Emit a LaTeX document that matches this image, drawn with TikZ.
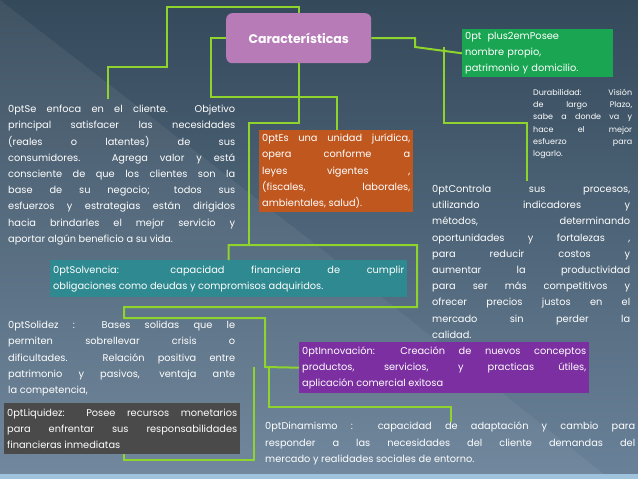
\documentclass[tikz,border=0pt]{standalone}
\usepackage{fontspec}
\setmainfont{Poppins}
\usetikzlibrary{calc}
\definecolor{bgtop}{HTML}{34495A}
\definecolor{bgbot}{HTML}{6A8299}
\definecolor{bandblue}{HTML}{9FC3DD}
\definecolor{linkgreen}{HTML}{8FD42C}
\definecolor{carfill}{HTML}{B77BB8}
\definecolor{poseefill}{HTML}{19A552}
\definecolor{jurfill}{HTML}{C0571F}
\definecolor{solvfill}{HTML}{2E8A90}
\definecolor{innfill}{HTML}{7B2FA1}
\definecolor{liqfill}{HTML}{4A4A4A}
\hbadness=10000
\tikzset{
  link/.style={draw=linkgreen, line width=2pt},
  txt/.style={anchor=north west, inner sep=0pt, align=justify, text=white,
    font=\fontsize{9.8}{16.2}\selectfont\hyphenpenalty=10000\exhyphenpenalty=10000},
  boxed/.style={txt, inner sep=3pt},
}
\begin{document}
\begin{tikzpicture}[x=1pt, y=-1pt]
  % background
  \shade[top color=bgtop, bottom color=bgbot] (0,0) rectangle (638,479);
  \fill[white, opacity=0.06] (0,0) -- (310,240) -- (0,240) -- cycle;
  \fill[white, opacity=0.05] (0,240) -- (310,240) -- (610,479) -- (0,479) -- cycle;
  \fill[bandblue] (0,474) rectangle (638,479);
  % boxes
  \node[anchor=north west, fill=carfill, rounded corners=6pt, minimum width=145pt,
    minimum height=50pt, text=white, font=\bfseries\fontsize{12.5}{14}\selectfont]
    (car) at (226,13) {Características};
  \node[boxed, fill=poseefill, text width=145pt, align=center, minimum height=37pt]
    (posee) at (462,29) {Posee nombre propio,\\ patrimonio y domicilio.};
  \node[txt, text width=99pt, font=\fontsize{8}{12.2}\selectfont] (dur) at (533,89)
    {Durabilidad: Visión\linebreak de largo Plazo,\linebreak sabe a donde va y\linebreak hace el mejor\linebreak esfuerzo para\linebreak logarlo.};
  \node[txt, text width=227pt] (enf) at (8,105)
    {Se enfoca en el cliente. Objetivo\linebreak principal satisfacer las necesidades\linebreak (reales o latentes) de sus\linebreak consumidores. Agrega valor y está\linebreak consciente de que los clientes son la\linebreak base de su negocio; todos sus\linebreak esfuerzos y estrategias están dirigidos\linebreak hacia brindarles el mejor servicio y\linebreak aportar algún beneficio a su vida.};
  \node[boxed, fill=jurfill, text width=148pt, minimum height=82pt] (jur) at (259,130)
    {Es una unidad jurídica,\linebreak opera conforme a\linebreak leyes vigentes ,\linebreak (fiscales, laborales,\linebreak ambientales, salud).};
  \node[txt, text width=198pt] (ctl) at (432,185)
    {Controla sus procesos,\linebreak utilizando indicadores y\linebreak métodos, determinando\linebreak oportunidades y fortalezas ,\linebreak para reducir costos y\linebreak aumentar la productividad\linebreak para ser más competitivos y\linebreak ofrecer precios justos en el\linebreak mercado sin perder la\linebreak calidad.};
  \node[boxed, fill=solvfill, text width=351pt, minimum height=37pt] (solv) at (50,260)
    {Solvencia: capacidad financiera de cumplir\linebreak obligaciones como deudas y compromisos adquiridos.};
  \node[txt, text width=227pt] (sol) at (8,321)
    {Solidez : Bases solidas que le\linebreak permiten sobrellevar crisis o\linebreak dificultades. Relación positiva entre\linebreak patrimonio y pasivos, ventaja ante\linebreak la competencia,};
  \node[boxed, fill=innfill, text width=284pt, minimum height=51pt] (inn) at (299,342)
    {Innovación: Creación de nuevos conceptos\linebreak productos, servicios, y practicas útiles,\linebreak aplicación comercial exitosa};
  \node[boxed, fill=liqfill, text width=230pt, minimum height=51pt] (liq) at (4,403)
    {Liquidez: Posee recursos monetarios\linebreak para enfrentar sus responsabilidades\linebreak financieras inmediatas};
  \node[txt, text width=370pt] (din) at (265,422)
    {Dinamismo : capacidad de adaptación y cambio para\linebreak responder a las necesidades del cliente demandas del\linebreak mercado y realidades sociales de entorno.};
  % connectors
  \coordinate (enfTop) at (108,99);
  \coordinate (solTop) at (124,318);
  \coordinate (liqBot) at (124,454);
  \coordinate (ctlTop) at (527,181);
  \draw[link] (car.north) |- (167,7) |- (108,67) -- (enfTop);
  \draw[link] (car.west) -| (211,97) -| (jur.north -| 337,0);
  \draw[link] (car.south) |- (249,123) -- (249,245);
  \draw[link] (solv.north) |- (417,245) |- (124,307) -- (solTop) -| (265,367) -- (inn.west);
  \draw[link] (254,367) |- (124,460) -- (liqBot);
  \draw[link] (269,367) |- (451,407) -- (din.north -| 451,0);
  \draw[link] (car.east) -| (415,47) -- (posee.west);
  \draw[link] (444,47) |- (527,123) -- (ctlTop);
\end{tikzpicture}
\end{document}
